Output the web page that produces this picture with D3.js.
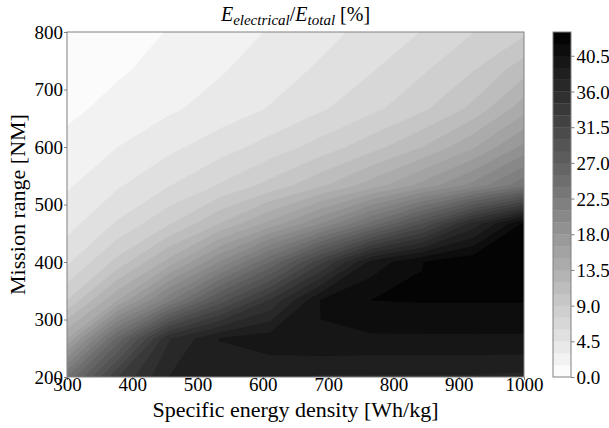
<!DOCTYPE html>
<html>
<head>
<meta charset="utf-8">
<script src="https://cdn.jsdelivr.net/npm/d3@7"></script>
<style>
  body { margin: 0; background: #fff; }
  svg text { font-family: "Liberation Serif", "DejaVu Serif", serif; fill: #000; }
</style>
</head>
<body>
<div id="chart"></div>
<script>
// grid axes of the contour data
const energyDensity = [300, 377.8, 455.6, 533.3, 611.1, 688.9, 766.7, 844.4, 922.2, 1000];
const missionRange = [200, 266.7, 333.3, 400, 466.7, 533.3, 600, 666.7, 733.3, 800];

// E_electrical / E_total [%], one row per mission range (200 NM first)
const ratio200 = [24, 33, 37.5, 38.2, 37.9, 37.3, 37.3, 37.3, 37.3, 37.1];
const ratio267 = [15, 26, 35.8, 39.05, 39.8, 40.4, 40.25, 40.25, 40.25, 40.25];
const ratio333 = [9, 15, 22, 29, 34.6, 40.6, 42.0, 42.1, 42.1, 42.1];
const ratio400 = [5.7, 9.5, 14, 19.5, 25.5, 32.5, 39.5, 41.97, 43.2, 43.3];
const ratio467 = [3.9, 6.2, 8.8, 12, 15.5, 19.5, 24.5, 30, 36.5, 42.2];
const ratio533 = [2.8, 4.3, 5.9, 7.6, 9.5, 11.7, 14.2, 17, 20, 23.5];
const ratio600 = [1.96, 3.0, 4.1, 5.3, 6.6, 8.1, 9.9, 12, 14.8, 18.4];
const ratio667 = [1.13, 2.0, 2.75, 3.6, 4.6, 5.8, 7.1, 8.7, 10.9, 14.4];
const ratio733 = [0.75, 1.3, 2.05, 2.85, 3.75, 4.75, 5.9, 7.3, 8.95, 11.4];
const ratio800 = [0.45, 0.95, 1.55, 2.3, 3.1, 4.0, 5.0, 6.05, 7.45, 8.7];
const ratioRows = [ratio200, ratio267, ratio333, ratio400, ratio467,
                   ratio533, ratio600, ratio667, ratio733, ratio800];

const levels = [0, 1.5, 3, 4.5, 6, 7.5, 9, 10.5, 12, 13.5, 15, 16.5, 18, 19.5, 21,
                22.5, 24, 25.5, 27, 28.5, 30, 31.5, 33, 34.5, 36, 37.5, 39, 40.5, 42, 43.5];
const xTicks = [300, 400, 500, 600, 700, 800, 900, 1000];
const yTicks = [200, 300, 400, 500, 600, 700, 800];
const cbTicks = [0, 4.5, 9, 13.5, 18, 22.5, 27, 31.5, 36, 40.5];

const width = 609, height = 428;
const plot = { left: 67, right: 524, top: 32, bottom: 377 };
const cb = { left: 553, right: 571 };
const frameColor = "#808080";

const svg = d3.select("#chart").append("svg")
  .attr("width", width)
  .attr("height", height);

const x = d3.scaleLinear().domain([300, 1000]).range([plot.left, plot.right]);
const y = d3.scaleLinear().domain([200, 800]).range([plot.bottom, plot.top]);

const nx = energyDensity.length, ny = missionRange.length;
// d3.contours puts sample i at i + 0.5
const gx = d3.scaleLinear().domain([0.5, nx - 0.5]).range([energyDensity[0], energyDensity[nx - 1]]);
const gy = d3.scaleLinear().domain([0.5, ny - 0.5]).range([missionRange[0], missionRange[ny - 1]]);

const values = ratioRows.flat();
const vmax = levels[levels.length - 1];
const step = levels[1] - levels[0];
const bandColor = lo => {
  const g = Math.round(255 * (1 - (lo + step / 2) / vmax));
  return `rgb(${g},${g},${g})`;
};

const bandLows = levels.slice(0, -1);
const contours = d3.contours().size([nx, ny]).thresholds(bandLows)(values);

const proj = d3.geoTransform({
  point(px, py) { this.stream.point(x(gx(px)), y(gy(py))); }
});
const path = d3.geoPath(proj);

svg.append("clipPath").attr("id", "plot-clip")
  .append("rect")
  .attr("x", plot.left).attr("y", plot.top)
  .attr("width", plot.right - plot.left).attr("height", plot.bottom - plot.top);

svg.append("g")
  .attr("clip-path", "url(#plot-clip)")
  .selectAll("path")
  .data(contours)
  .join("path")
  .attr("d", path)
  .attr("fill", d => bandColor(d.value))
  .attr("stroke", d => bandColor(d.value))
  .attr("stroke-width", 0.3);

// axes
const xAxis = svg.append("g")
  .attr("transform", `translate(0,${plot.bottom})`)
  .call(d3.axisBottom(x).tickValues(xTicks).tickFormat(d3.format("d")).tickSize(3));
const yAxis = svg.append("g")
  .attr("transform", `translate(${plot.left},0)`)
  .call(d3.axisLeft(y).tickValues(yTicks).tickFormat(d3.format("d")).tickSize(3).tickPadding(1));

[xAxis, yAxis].forEach(a => {
  a.select(".domain").remove();
  a.selectAll(".tick line").attr("stroke", frameColor);
  a.selectAll(".tick text").style("font-size", "19px");
});
xAxis.selectAll(".tick text").attr("y", 14).attr("dy", 0);
yAxis.selectAll(".tick text").attr("dy", "0.33em");

svg.append("rect")
  .attr("x", plot.left).attr("y", plot.top)
  .attr("width", plot.right - plot.left).attr("height", plot.bottom - plot.top)
  .attr("fill", "none").attr("stroke", frameColor).attr("stroke-width", 1);

// labels
svg.append("text")
  .attr("x", (plot.left + plot.right) / 2).attr("y", 417)
  .attr("text-anchor", "middle")
  .style("font-size", "22px")
  .text("Specific energy density [Wh/kg]");

svg.append("text")
  .attr("transform", `translate(25,${(plot.top + plot.bottom) / 2}) rotate(-90)`)
  .attr("text-anchor", "middle")
  .style("font-size", "22px")
  .text("Mission range [NM]");

const title = svg.append("text")
  .attr("x", (plot.left + plot.right) / 2).attr("y", 21)
  .attr("text-anchor", "middle")
  .style("font-size", "20px");
title.append("tspan").style("font-style", "italic").text("E");
title.append("tspan").style("font-style", "italic").style("font-size", "15px")
  .attr("dy", 4).text("electrical");
title.append("tspan").attr("dy", -4).text("/");
title.append("tspan").style("font-style", "italic").text("E");
title.append("tspan").style("font-style", "italic").style("font-size", "15px")
  .attr("dy", 4).text("total");
title.append("tspan").attr("dy", -4).text(" [%]");

// colorbar
const cy = d3.scaleLinear().domain([0, vmax]).range([plot.bottom, plot.top]);
svg.append("g")
  .selectAll("rect")
  .data(bandLows)
  .join("rect")
  .attr("x", cb.left)
  .attr("width", cb.right - cb.left)
  .attr("y", d => cy(d + step))
  .attr("height", d => cy(d) - cy(d + step) + 0.3)
  .attr("fill", d => bandColor(d));

const cbAxis = svg.append("g")
  .attr("transform", `translate(${cb.right},0)`)
  .call(d3.axisRight(cy).tickValues(cbTicks).tickFormat(d3.format(".1f")).tickSize(3.5).tickPadding(2));
cbAxis.select(".domain").remove();
cbAxis.selectAll(".tick line").attr("stroke", frameColor);
cbAxis.selectAll(".tick text").style("font-size", "19px").attr("dy", "0.35em");

svg.append("rect")
  .attr("x", cb.left).attr("y", plot.top)
  .attr("width", cb.right - cb.left).attr("height", plot.bottom - plot.top)
  .attr("fill", "none").attr("stroke", frameColor).attr("stroke-width", 1);
</script>
</body>
</html>
